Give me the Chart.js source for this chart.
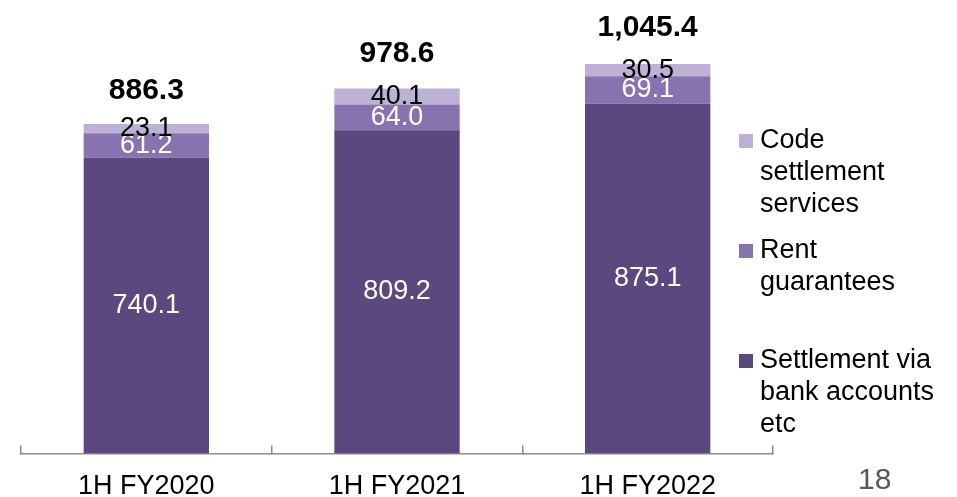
<!DOCTYPE html>
<html>
<head>
<meta charset="utf-8">
<script src="https://cdn.jsdelivr.net/npm/chart.js@4/dist/chart.umd.min.js"></script>
<style>
  body { margin: 0; background: #fff; }
  #wrap { position: relative; width: 957px; height: 497px; font-family: "Liberation Sans", Arial, sans-serif; }
  #legend { position: absolute; left: 739px; top: 123px; }
  .item { position: relative; height: 110px; padding-left: 21px; font-size: 27px; line-height: 32px; color: #000; }
  .item i { position: absolute; left: 0; top: 11px; width: 14px; height: 14px; }
  #page { position: absolute; left: 858px; top: 462px; font-size: 30px; line-height: 34px; color: #595959; }
</style>
</head>
<body>
<div id="wrap">
  <canvas id="chart" width="957" height="497"></canvas>
  <div id="legend"></div>
  <div id="page">18</div>
</div>
<script>
const periods = ['1H FY2020', '1H FY2021', '1H FY2022']
const bankSettlement = [740.1, 809.2, 875.1]
const rentGuarantees = [61.2, 64.0, 69.1]
const codeSettlement = [23.1, 40.1, 30.5]
const totals = [886.3, 978.6, 1045.4]

const font = '"Liberation Sans", Arial, sans-serif'

const series = [
    {label: 'Settlement via<br>bank accounts<br>etc', data: bankSettlement, color: '#5a487e', text: '#fff'},
    {label: 'Rent<br>guarantees', data: rentGuarantees, color: '#8872b0', text: '#fff'},
    {label: 'Code<br>settlement<br>services', data: codeSettlement, color: '#bdb1d6', text: '#000'}
]

// value labels centred in each segment, totals above the stacks
const barLabels = {
    id: 'barLabels',
    afterDatasetsDraw(chart) {
        const ctx = chart.ctx
        ctx.save()
        ctx.textAlign = 'center'
        ctx.textBaseline = 'middle'
        ctx.font = `27px ${font}`
        chart.data.datasets.forEach((ds, i) => {
            ctx.fillStyle = series[i].text
            chart.getDatasetMeta(i).data.forEach((bar, j) => {
                ctx.fillText(ds.data[j].toFixed(1), bar.x, (bar.y + bar.base) / 2)
            })
        })
        const y = chart.scales.y
        ctx.font = `bold 30px ${font}`
        ctx.fillStyle = '#000'
        ctx.textBaseline = 'alphabetic'
        chart.getDatasetMeta(0).data.forEach((bar, j) => {
            ctx.fillText(totals[j].toLocaleString('en-US', {minimumFractionDigits: 1}), bar.x, y.getPixelForValue(totals[j]))
        })
        ctx.restore()
    }
}

new Chart(document.getElementById('chart'), {
    type: 'bar',
    data: {
        labels: periods,
        datasets: series.map(s => ({
            label: s.label,
            data: s.data,
            backgroundColor: s.color,
            barPercentage: 0.5,
            categoryPercentage: 1
        }))
    },
    options: {
        responsive: false,
        animation: false,
        layout: {padding: {top: 14, left: 21, right: 184, bottom: -30}},
        plugins: {legend: {display: false}, tooltip: {enabled: false}},
        scales: {
            x: {
                stacked: true,
                border: {color: '#8c8c8c', width: 1.5},
                grid: {drawOnChartArea: false, color: '#8c8c8c', lineWidth: 1.5, tickLength: -8},
                ticks: {color: '#000', padding: 30, font: {family: font, size: 27, lineHeight: 0.8}}
            },
            y: {stacked: true, display: false, min: 0, max: 1100}
        }
    },
    plugins: [barLabels]
})

// legend, top entry first
const legend = document.getElementById('legend')
series.slice().reverse().forEach(s => {
    legend.insertAdjacentHTML('beforeend', `<div class="item"><i style="background:${s.color}"></i>${s.label}</div>`)
})
</script>
</body>
</html>
